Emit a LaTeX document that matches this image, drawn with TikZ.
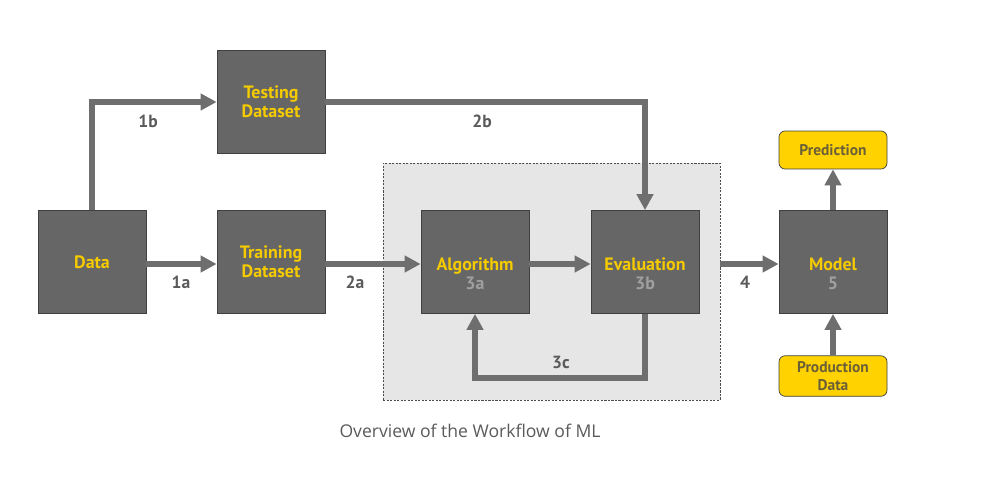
\documentclass[tikz,border=0pt]{standalone}
\usepackage{fontspec}
\setmainfont{PT Sans}
\newfontfamily\capfont{Open Sans}
\usetikzlibrary{arrows.meta}
\definecolor{boxgray}{HTML}{666666}
\definecolor{flowgray}{HTML}{6E6E6E}
\definecolor{regiongray}{HTML}{E6E6E6}
\definecolor{ylw}{HTML}{F5CB00}
\definecolor{yfill}{HTML}{FFD200}
\definecolor{ytext}{HTML}{6B5F38}
\definecolor{subgray}{HTML}{A0A0A0}
\definecolor{lblgray}{HTML}{5A5A5A}

\begin{document}
\begin{tikzpicture}[x=0.02cm,y=-0.02cm,
    box/.style={draw=black!75,fill=boxgray,minimum width=2.16cm,minimum height=2.06cm,
      align=center,font=\bfseries\fontsize{10.2}{11}\selectfont,text=ylw},
    sub/.style={font=\bfseries\fontsize{10.2}{11}\selectfont,text=subgray,yshift=-0.43cm},
    ybox/.style={draw=black!75,fill=yfill,rounded corners=0.12cm,minimum width=2.16cm,
      minimum height=0.76cm,align=center,font=\bfseries\fontsize{8.8}{10}\selectfont,text=ytext},
    flow/.style={draw=flowgray,line width=0.12cm,-{Triangle[length=0.32cm,width=0.32cm]}},
    lbl/.style={font=\bfseries\fontsize{10}{12}\selectfont,text=lblgray}]
    \useasboundingbox (0,0) rectangle (986,483);
    % grey area round the loop
    \node[draw=black!70,dash pattern=on 1.2pt off 0.8pt,fill=regiongray,
      minimum width=6.74cm,minimum height=4.74cm] (region) at (551.5,281.5) {};
    % boxes
    \foreach \n/\x/\y/\t in {data/92/262/Data,
        test/271/102/{Testing\\Dataset},
        train/271/262/{Training\\Dataset}}{%
      \node[box] (\n) at (\x,\y) {\t};
    }
    \foreach \n/\x/\t/\s in {algo/475/Algorithm/3a,
        eval/645/Evaluation/3b,
        model/833/Model/5}{%
      \node[box,text height=1.9ex,text depth=0ex,label={[sub]center:\s}] (\n) at (\x,262) {\t};
    }
    \node[ybox] (pred) at (833,150) {Prediction};
    \node[ybox] (prod) at (833,376) {Production\\Data};
    % connectors
    \draw[flow] (data.north) |- (test.west);
    \draw[flow] (data.east |- 0,264) -- (train.west |- 0,264);
    \draw[flow] (train.east |- 0,264) -- (algo.west |- 0,264);
    \draw[flow] (test.east) -| (eval.north);
    \draw[flow] (algo.east |- 0,264) -- (eval.west |- 0,264);
    \coordinate (back) at (560,378);
    \draw[flow] (eval.south) |- (back) -| (algo.south);
    \draw[flow] (region.east |- 0,264) -- (model.west |- 0,264);
    \draw[flow] (model.north) -- (pred.south);
    \draw[flow] (prod.north) -- (model.south);
    % labels
    \foreach \x/\y/\t in {148/121/1b,181/282/1a,355/282/2a,482/121/2b,561/362/3c,745/282/4}{%
      \node[lbl] at (\x,\y) {\t};
    }
    \node[font=\capfont\fontsize{10}{12}\selectfont,text=lblgray] (caption) at (470,431) {Overview of the Workflow of ML};
\end{tikzpicture}
\end{document}
